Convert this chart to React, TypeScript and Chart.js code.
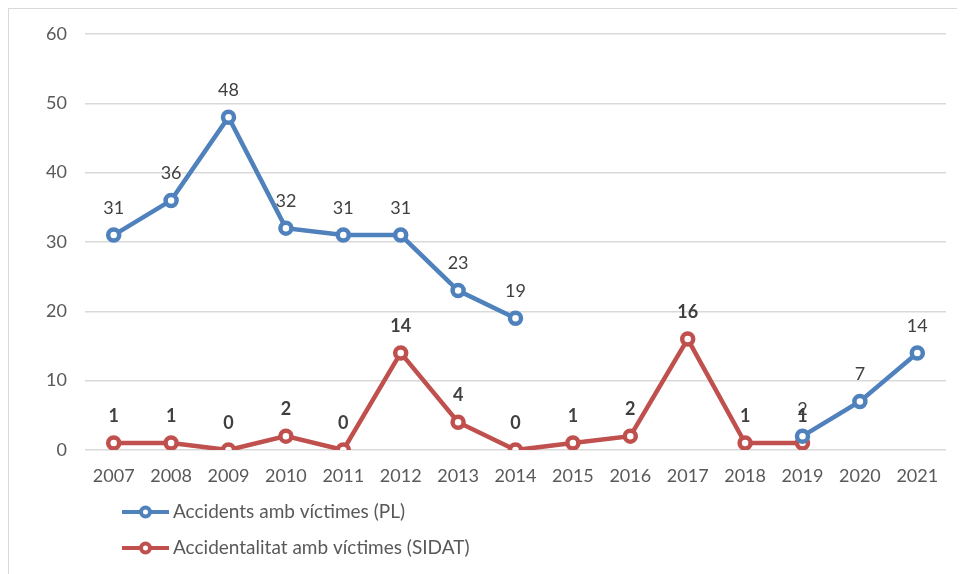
import React, { useEffect, useRef } from "react";
import { Chart, registerables } from "chart.js";

Chart.register(...registerables);

const years = ["2007","2008","2009","2010","2011","2012","2013","2014","2015","2016","2017","2018","2019","2020","2021"];
const plSeries: (number | null)[] = [31, 36, 48, 32, 31, 31, 23, 19, null, null, null, null, 2, 7, 14];
const sidatSeries: (number | null)[] = [1, 1, 0, 2, 0, 14, 4, 0, 1, 2, 16, 1, 1, null, null];
const seriesNames = ["Accidents amb víctimes (PL)", "Accidentalitat amb víctimes (SIDAT)"];
const seriesColors = ["#4F81BD", "#C0504D"];
const yTicks = [0, 10, 20, 30, 40, 50, 60];

const FONT = "Lato, 'Open Sans', sans-serif";

const labelPlugin = {
  id: "dataLabels",
  afterDatasetsDraw(chart: any) {
    const ctx = chart.ctx;
    ctx.save();
    ctx.textAlign = "center";
    ctx.textBaseline = "middle";
    ctx.fillStyle = "#404040";
    chart.data.datasets.forEach((ds: any, i: number) => {
      const meta = chart.getDatasetMeta(i);
      ctx.font = (i === 1 ? "bold " : "") + "18px " + FONT;
      meta.data.forEach((pt: any, j: number) => {
        const v = ds.data[j];
        if (v === null || v === undefined) return;
        ctx.fillText(String(v), pt.x, pt.y - 27);
      });
    });
    ctx.restore();
  },
};

const legendPlugin = {
  id: "customLegend",
  afterDraw(chart: any) {
    const ctx = chart.ctx;
    ctx.save();
    const x0 = 113;
    const ys = [502, 538];
    chart.data.datasets.forEach((ds: any, i: number) => {
      const y = ys[i];
      ctx.strokeStyle = ds.borderColor;
      ctx.lineWidth = 4;
      ctx.beginPath();
      ctx.moveTo(x0, y);
      ctx.lineTo(x0 + 47, y);
      ctx.stroke();
      ctx.beginPath();
      ctx.arc(x0 + 23.5, y, 4.5, 0, Math.PI * 2);
      ctx.fillStyle = "#ffffff";
      ctx.fill();
      ctx.lineWidth = 4;
      ctx.stroke();
      ctx.fillStyle = "#595959";
      ctx.font = "19px " + FONT;
      ctx.textAlign = "left";
      ctx.textBaseline = "middle";
      ctx.fillText(ds.label, x0 + 51, y);
    });
    ctx.restore();
  },
};

export default function App() {
  const ref = useRef<HTMLCanvasElement>(null);
  useEffect(() => {
    document.body.style.overflow = "hidden";
    if (!ref.current) return;
    const chart = new Chart(ref.current, {
      type: "line",
      data: {
        labels: years,
        datasets: [
          {
            label: seriesNames[0],
            data: plSeries,
            borderColor: seriesColors[0],
            backgroundColor: "#ffffff",
            borderWidth: 4.5,
            pointRadius: 5.5,
            pointBorderWidth: 4.5,
            pointBackgroundColor: "#ffffff",
            pointBorderColor: seriesColors[0],
            spanGaps: false,
            tension: 0,
          },
          {
            label: seriesNames[1],
            data: sidatSeries,
            borderColor: seriesColors[1],
            backgroundColor: "#ffffff",
            borderWidth: 4.5,
            pointRadius: 5.5,
            pointBorderWidth: 4.5,
            pointBackgroundColor: "#ffffff",
            pointBorderColor: seriesColors[1],
            spanGaps: false,
            tension: 0,
          },
        ],
      },
      options: {
        animation: false,
        responsive: false,
        layout: { padding: { left: 0, top: 24, right: 19, bottom: 0 } },
        plugins: { legend: { display: false }, tooltip: { enabled: false } },
        scales: {
          x: {
            offset: true,
            grid: { display: false, drawTicks: false },
            border: { display: false },
            ticks: { color: "#595959", font: { family: FONT, size: 18 }, padding: 15, maxRotation: 0, autoSkip: false },
            afterFit: (s: any) => { s.height = 125; s.paddingLeft = 0; s.paddingRight = 0; },
          },
          y: {
            min: 0,
            max: 60,
            afterBuildTicks: (s: any) => { s.ticks = yTicks.map((v) => ({ value: v })); },
            grid: { color: "#d9d9d9", lineWidth: 1.5, drawTicks: false },
            border: { display: false },
            ticks: { color: "#595959", font: { family: FONT, size: 18 }, padding: 18 },
            afterFit: (s: any) => { s.width = 76; s.paddingTop = 0; s.paddingBottom = 0; },
          },
        },
      },
      plugins: [labelPlugin, legendPlugin],
    });
    return () => chart.destroy();
  }, []);
  return (
    <div style={{ width: 957, height: 566, borderTop: "1px solid #d9d9d9", borderLeft: "1px solid #d9d9d9", boxSizing: "border-box", position: "relative" }}>
      <canvas ref={ref} width={956} height={565} style={{ display: "block", position: "absolute", left: 0, top: 1 }} />
    </div>
  );
}
